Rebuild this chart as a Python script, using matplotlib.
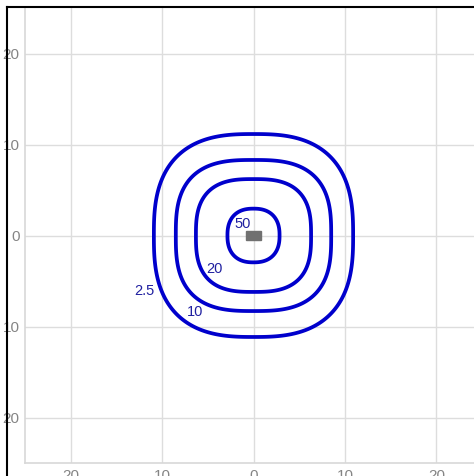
import numpy as np
import matplotlib
matplotlib.use("Agg")
import matplotlib.pyplot as plt
from matplotlib.patches import Rectangle
from matplotlib.lines import Line2D

# Contour levels and the measured shape of each contour
levels = [2.5, 10, 20, 50]
half_width_x = [10.9, 8.5, 6.3, 2.85]
half_width_y = [11.15, 8.3, 6.2, 2.95]
shape_exp = [2.7, 2.85, 2.8, 2.4]
label_pos = [(-11.9, -6.1), (-6.4, -8.4), (-4.3, -3.7), (-1.2, 1.3)]
label_text = ["2.5", "10", "20", "50"]
ticks = [-20, -10, 0, 10, 20]
tick_labels = ["20", "10", "0", "10", "20"]

FONT = ["Liberation Sans", "DejaVu Sans"]

fig = plt.figure(figsize=(4.74, 4.76), dpi=100)
ax = fig.add_axes([25/474, 13/476, 457/474, 455/476])
ax.set_xlim(-25, 25)
ax.set_ylim(-25, 25)

xs = np.linspace(-25, 25, 801)
X, Y = np.meshgrid(xs, xs)
for a, b, p in zip(half_width_x, half_width_y, shape_exp):
    F = (np.abs(X / a) ** p + np.abs(Y / b) ** p) ** (1.0 / p)
    ax.contour(X, Y, F, levels=[1.0], colors="#0000cc", linewidths=2.7, zorder=3)

for (lx, ly), t in zip(label_pos, label_text):
    ax.text(lx, ly, t, color="#2020a0", fontsize=10.5, ha="center", va="center",
            family=FONT, zorder=4)

ax.add_patch(Rectangle((-0.8, -0.5), 1.6, 1.0, color="#707070", zorder=4))

ax.set_xticks(ticks)
ax.set_xticklabels(tick_labels)
ax.set_yticks(ticks)
ax.set_yticklabels(tick_labels)
ax.tick_params(length=0, pad=4, labelsize=11, labelcolor="#858585")
for lab in ax.get_xticklabels() + ax.get_yticklabels():
    lab.set_family(FONT)
ax.grid(True, color="#dddddd", linewidth=1)
ax.set_axisbelow(True)
for s in ["top", "right"]:
    ax.spines[s].set_visible(False)
for s in ["left", "bottom"]:
    ax.spines[s].set_color("#d8d8d8")
    ax.spines[s].set_linewidth(1.2)

fig.add_artist(Line2D([7/474, 7/474], [0, 1 - 7/476], transform=fig.transFigure,
                      color="black", linewidth=1.5))
fig.add_artist(Line2D([7/474, 1], [1 - 7/476, 1 - 7/476], transform=fig.transFigure,
                      color="black", linewidth=1.5))

fig.savefig("out.png", dpi=100)
